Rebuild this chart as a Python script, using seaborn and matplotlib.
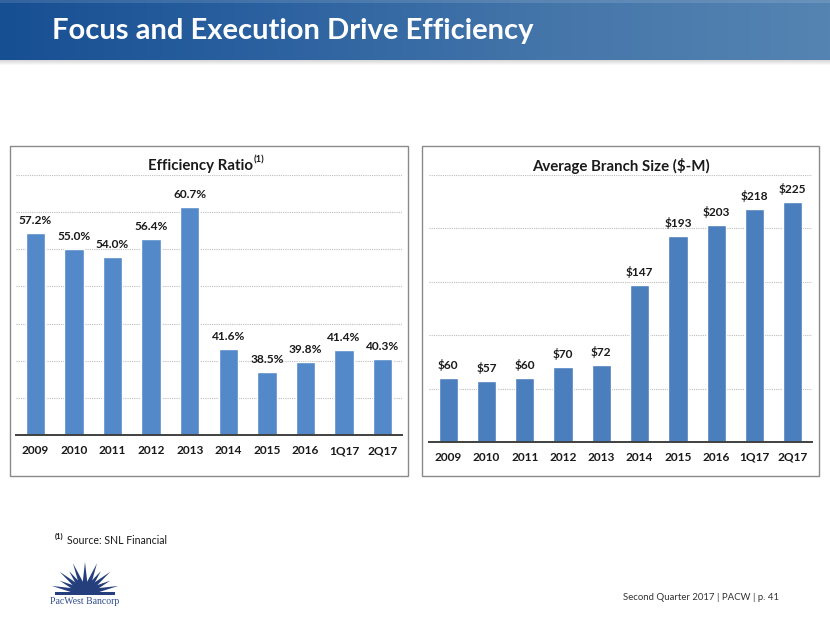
import numpy as np
import matplotlib
matplotlib.use('Agg')
import matplotlib.pyplot as plt
import seaborn as sns
import pandas as pd
from matplotlib.patches import Rectangle, Polygon
from matplotlib.colors import LinearSegmentedColormap

# ---------------- data ----------------
categories = ["2009", "2010", "2011", "2012", "2013", "2014", "2015", "2016", "1Q17", "2Q17"]
efficiency_ratio = [57.2, 55.0, 54.0, 56.4, 60.7, 41.6, 38.5, 39.8, 41.4, 40.3]
branch_size = [60, 57, 60, 70, 72, 147, 193, 203, 218, 225]
efficiency_labels = [f"{v:.1f}%" for v in efficiency_ratio]
branch_labels = [f"${v}" for v in branch_size]

sns.set_theme(style="white")
plt.rcParams['font.family'] = ['Lato', 'DejaVu Sans']

W, H = 830, 623
fig = plt.figure(figsize=(W / 100, H / 100), dpi=100)
fig.patch.set_facecolor('white')

# background / decoration axes in pixel coordinates
bg = fig.add_axes([0, 0, 1, 1], zorder=0)
grad = np.linspace(0, 1, 512).reshape(1, -1)
cmap = LinearSegmentedColormap.from_list('hdr', ['#174f93', '#2c62a0', '#4576aa', '#5584b2'])
bg.imshow(grad, extent=(0, W, 60, 0), aspect='auto', cmap=cmap, zorder=1)
bg.add_patch(Rectangle((0, 0), W, 3, color='white', alpha=0.12, lw=0, zorder=1))
for i, a in enumerate(np.linspace(0.30, 0.0, 6)):
    bg.add_patch(Rectangle((0, 60 + i), W, 1, color='#808080', alpha=a, lw=0, zorder=1))
bg.set_xlim(0, W)
bg.set_ylim(H, 0)
bg.axis('off')

bg.text(52, 31, "Focus and Execution Drive Efficiency", color='white', fontsize=21,
        fontweight='bold', va='center', ha='left', zorder=3)

# panel boxes
bg.add_patch(Rectangle((10, 146), 398, 330, fill=False, ec='#8a8a8a', lw=1.0, zorder=2))
bg.add_patch(Rectangle((422, 146), 397, 330, fill=False, ec='#8a8a8a', lw=1.0, zorder=2))

# panel titles
bg.text(253, 166, "Efficiency Ratio", fontsize=10.8, fontweight='bold', color='#1a1a1a',
        ha='right', va='center', zorder=3)
bg.text(254, 160, "(1)", fontsize=6.8, fontweight='bold', color='#1a1a1a',
        ha='left', va='center', zorder=3)
bg.text(621, 166, "Average Branch Size ($-M)", fontsize=10.8, fontweight='bold', color='#1a1a1a',
        ha='center', va='center', zorder=3)

# footnote
bg.text(55, 536, "(1)", fontsize=5.5, fontweight='bold', color='#1a1a1a', ha='left', va='center')
bg.text(67, 540, "Source: SNL Financial", fontsize=7.6, color='#1a1a1a', ha='left', va='center')

# footer
bg.text(779, 598, "Second Quarter 2017 | PACW | p. 41", fontsize=6.9, color='#333333',
        ha='right', va='center')

# logo (sunburst + name)
logo_c = '#253f7d'
cx, cy = 85, 593
angles = [12, 26, 40, 54, 68, 90, 112, 126, 140, 154, 168]
lengths = [34, 28, 33, 27, 32, 31, 32, 27, 33, 28, 34]
for ang, ln in zip(angles, lengths):
    t = np.deg2rad(ang)
    tx, ty = cx + ln * np.cos(t), cy - ln * np.sin(t)
    nx, ny = -np.sin(t), -np.cos(t)
    hw = 2.6
    bx1, by1 = cx + 8 * np.cos(t) + hw * nx, cy - 8 * np.sin(t) + hw * ny
    bx2, by2 = cx + 8 * np.cos(t) - hw * nx, cy - 8 * np.sin(t) - hw * ny
    bg.add_patch(Polygon([(bx1, by1), (tx, ty), (bx2, by2)], closed=True, color=logo_c, lw=0))
th = np.linspace(0, np.pi, 40)
mound = [(cx + 13 * np.cos(a), cy - 9 * np.sin(a)) for a in th]
bg.add_patch(Polygon(mound + [(cx - 28, cy + 2), (cx + 28, cy + 2)], closed=True, color=logo_c, lw=0))
bg.add_patch(Rectangle((cx - 30, cy - 1), 60, 3, color=logo_c, lw=0))
bg.text(cx, 602, "PacWest Bancorp", fontsize=7, color='#2f4c8c', ha='center', va='center',
        family=['Liberation Serif', 'DejaVu Serif'])


def draw_panel(rect, values, labels, color, ylim, step):
    ax = fig.add_axes(rect, zorder=2)
    ax.set_facecolor('none')
    df = pd.DataFrame({"cat": categories, "val": values})
    sns.barplot(data=df, x="cat", y="val", color=color, saturation=1, width=0.5, ax=ax, zorder=3)
    ax.set_xlim(-0.5, len(categories) - 0.5)
    ax.set_ylim(*ylim)
    ax.set_yticks(np.arange(ylim[0], ylim[1] + 0.01, step))
    ax.yaxis.grid(True, linestyle=(0, (1, 1)), color='#bdbdbd', lw=0.8, zorder=0)
    ax.xaxis.grid(False)
    ax.tick_params(axis='y', left=False, labelleft=False)
    ax.tick_params(axis='x', bottom=False, length=0, pad=7, labelsize=8.6, labelcolor='#1a1a1a')
    for lbl in ax.get_xticklabels():
        lbl.set_fontweight('bold')
    for s in ['top', 'right', 'left']:
        ax.spines[s].set_visible(False)
    ax.spines['bottom'].set_color('#404040')
    ax.spines['bottom'].set_linewidth(1.4)
    ax.spines['bottom'].set_zorder(4)
    ax.set_xlabel('')
    ax.set_ylabel('')
    ax.bar_label(ax.containers[0], labels=labels, padding=5, fontsize=8.6, fontweight='bold',
                 color='#1a1a1a')
    return ax


draw_panel([16 / W, 1 - 435.3 / H, 386 / W, (435.3 - 174.6) / H],
           efficiency_ratio, efficiency_labels, '#5389c9', (30, 65), 5)
draw_panel([429 / W, 1 - 442 / H, 383 / W, (442 - 175) / H],
           branch_size, branch_labels, '#4b7ebd', (0, 250), 50)

fig.savefig('out.png', dpi=100, facecolor='white')
